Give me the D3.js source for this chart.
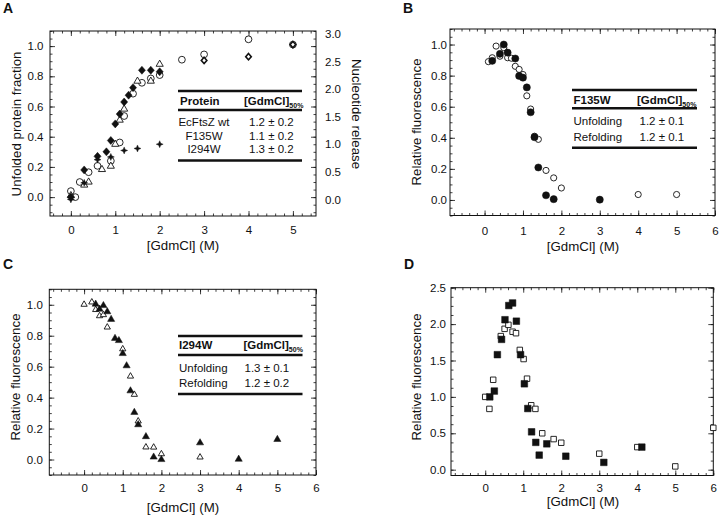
<!DOCTYPE html>
<html><head><meta charset="utf-8">
<script src="https://cdn.jsdelivr.net/npm/d3@7"></script>
<style>
body{margin:0;background:#fff}
svg{display:block}
text{font-family:Arial,"Liberation Sans",sans-serif;fill:#111}
</style>
</head><body>
<script>
// ---------- DATA ----------
// Panel A (left axis: unfolded protein fraction; stars on right axis: nucleotide release)
const aDiamondX = [0, 0.3, 0.6, 0.8, 0.9, 1.0, 1.1, 1.2, 1.3, 1.4, 1.6, 1.8, 2.0];
const aDiamondY = [0.0, 0.18, 0.27, 0.30, 0.375, 0.485, 0.55, 0.63, 0.675, 0.725, 0.84, 0.84, 0.83];
const aOpenDiamondX = [3, 4, 5];
const aOpenDiamondY = [0.905, 0.93, 1.01];
const aCircleX = [0, 0.1, 0.2, 0.4, 0.6, 0.9, 1.1, 1.2, 1.4, 1.6, 1.8, 2.0, 2.5, 3, 4, 5];
const aCircleY = [0.04, 0.0, 0.10, 0.165, 0.207, 0.24, 0.362, 0.537, 0.685, 0.757, 0.786, 0.808, 0.91, 0.945, 1.045, 1.01];
const aTriangleX = [0, 0.3, 0.4, 0.7, 0.9, 1.0, 1.1, 1.2, 1.5, 1.8, 2.0];
const aTriangleY = [0.01, 0.08, 0.10, 0.183, 0.205, 0.35, 0.51, 0.583, 0.768, 0.768, 0.88];
const aStarX = [0, 0.3, 0.6, 0.9, 1.2, 1.5, 2.0];
const aStarY = [0.0, 0.30, 0.72, 0.77, 0.887, 0.923, 1.0]; // right axis units

// Panel B
const bFilledX = [0.2, 0.4, 0.5, 0.6, 0.8, 0.9, 1.0, 1.1, 1.2, 1.3, 1.4, 1.6, 1.8, 3.0];
const bFilledY = [0.895, 0.94, 1.0, 0.948, 0.91, 0.798, 0.787, 0.724, 0.564, 0.404, 0.209, 0.03, 0.005, 0.002];
const bOpenX = [0.1, 0.2, 0.3, 0.4, 0.5, 0.6, 0.7, 0.8, 0.9, 1.0, 1.1, 1.2, 1.3, 1.4, 1.6, 1.8, 2.0, 4.0, 5.0];
const bOpenY = [0.89, 0.915, 0.99, 0.925, 0.98, 0.915, 0.912, 0.86, 0.84, 0.807, 0.67, 0.585, 0.41, 0.39, 0.19, 0.142, 0.077, 0.035, 0.035];

// Panel C
const cFilledX = [0.3, 0.4, 0.5, 0.6, 0.7, 0.8, 0.9, 1.0, 1.1, 1.2, 1.3, 1.4, 1.6, 1.8, 2.0, 3.0, 4.0, 5.0];
const cFilledY = [1.004, 0.972, 0.995, 0.955, 0.906, 0.783, 0.769, 0.685, 0.606, 0.444, 0.305, 0.225, 0.148, 0.016, 0.0, 0.108, 0.002, 0.13];
const cOpenX = [0, 0.2, 0.3, 0.4, 0.5, 0.6, 1.0, 1.2, 1.3, 1.4, 1.6, 1.8, 2.0, 3.0];
const cOpenY = [1.002, 1.017, 0.968, 0.928, 0.935, 0.855, 0.714, 0.538, 0.42, 0.248, 0.08, 0.079, 0.036, 0.015];

// Panel D
const dFilledX = [0.12, 0.24, 0.32, 0.43, 0.52, 0.62, 0.72, 0.82, 0.93, 1.03, 1.12, 1.22, 1.33, 1.42, 1.62, 2.12, 3.12, 4.12];
const dFilledY = [1.0, 1.08, 1.58, 1.79, 2.06, 2.255, 2.29, 2.04, 1.58, 1.18, 0.84, 0.52, 0.375, 0.2, 0.355, 0.185, 0.1, 0.31];
const dOpenX = [0, 0.11, 0.21, 0.41, 0.51, 0.61, 0.72, 0.81, 0.91, 1.01, 1.1, 1.21, 1.32, 1.5, 1.8, 2.0, 3.0, 4.0, 5.0, 6.0];
const dOpenY = [1.0, 0.835, 1.235, 1.835, 1.935, 1.99, 1.895, 1.875, 1.645, 1.52, 1.25, 0.885, 0.835, 0.5, 0.42, 0.37, 0.22, 0.31, 0.045, 0.575];

// Ticks
const xTicksA = [0, 1, 2, 3, 4, 5];
const xTicksBCD = [0, 1, 2, 3, 4, 5, 6];
const yTicksFrac = [0, 0.2, 0.4, 0.6, 0.8, 1.0];
const yTicksRightA = [0, 0.5, 1.0, 1.5, 2.0, 2.5, 3.0];
const yTicksD = [0, 0.5, 1.0, 1.5, 2.0, 2.5];

// Tables
const tableAHeader = ["Protein", "[GdmCl]", "50%"];
const tableARows = ["EcFtsZ wt", "F135W", "I294W"];
const tableAVals = ["1.2 \u00b1 0.2", "1.1 \u00b1 0.2", "1.3 \u00b1 0.2"];
const tableBHeader = ["F135W", "[GdmCl]", "50%"];
const tableBRows = ["Unfolding", "Refolding"];
const tableBVals = ["1.2 \u00b1 0.1", "1.2 \u00b1 0.1"];
const tableCHeader = ["I294W", "[GdmCl]", "50%"];
const tableCRows = ["Unfolding", "Refolding"];
const tableCVals = ["1.3 \u00b1 0.1", "1.2 \u00b1 0.2"];

// ---------- DRAW ----------
const W = 720, H = 515;
const svg = d3.select("body").append("svg").attr("width", W).attr("height", H);
svg.append("rect").attr("width", W).attr("height", H).attr("fill", "#fff");

const INK = "#111";

function styleAxis(sel, fs) {
  sel.select(".domain").remove();
  sel.selectAll("line").attr("stroke", INK).attr("stroke-width", 0.8);
  sel.selectAll("text").attr("font-size", fs).attr("font-family", "Arial, 'Liberation Sans', sans-serif").attr("fill", INK);
}

function rangeBetween(lo, hi, step) {
  const out = [];
  const s = Math.ceil(lo / step - 1e-9);
  for (let k = s; k * step <= hi + 1e-9; k++) out.push(+(k * step).toFixed(6));
  return out;
}

function panel(cfg) {
  const g = svg.append("g");
  const x = d3.scaleLinear().domain(cfg.xDomain).range([cfg.x0, cfg.x1]);
  const y = d3.scaleLinear().domain(cfg.yDomain).range([cfg.y1, cfg.y0]);
  const xMinor = rangeBetween(cfg.xDomain[0], cfg.xDomain[1], cfg.xMinor);
  const yMinor = rangeBetween(cfg.yDomain[0], cfg.yDomain[1], cfg.yMinor);
  const fs = 11.5;

  g.append("g").attr("transform", `translate(0,${cfg.y1})`)
    .call(d3.axisBottom(x).tickValues(xMinor).tickSize(-2.5).tickFormat(""))
    .call(s => styleAxis(s, fs));
  g.append("g").attr("transform", `translate(0,${cfg.y1})`)
    .call(d3.axisBottom(x).tickValues(cfg.xTicks).tickSize(-5).tickPadding(cfg.xPad).tickFormat(d3.format("d")))
    .call(s => styleAxis(s, fs));
  g.append("g").attr("transform", `translate(0,${cfg.y0})`)
    .call(d3.axisTop(x).tickValues(xMinor).tickSize(-2.5).tickFormat(""))
    .call(s => styleAxis(s, fs));
  g.append("g").attr("transform", `translate(0,${cfg.y0})`)
    .call(d3.axisTop(x).tickValues(cfg.xTicks).tickSize(-5).tickFormat(""))
    .call(s => styleAxis(s, fs));
  g.append("g").attr("transform", `translate(${cfg.x0},0)`)
    .call(d3.axisLeft(y).tickValues(yMinor).tickSize(-2.5).tickFormat(""))
    .call(s => styleAxis(s, fs));
  g.append("g").attr("transform", `translate(${cfg.x0},0)`)
    .call(d3.axisLeft(y).tickValues(cfg.yTicks).tickSize(-5).tickPadding(cfg.yPad).tickFormat(d3.format(".1f")))
    .call(s => styleAxis(s, fs));
  g.append("g").attr("transform", `translate(${cfg.x1},0)`)
    .call(d3.axisRight(y).tickValues(yMinor).tickSize(-2.5).tickFormat(""))
    .call(s => styleAxis(s, fs));
  g.append("g").attr("transform", `translate(${cfg.x1},0)`)
    .call(d3.axisRight(y).tickValues(cfg.yTicks).tickSize(-5).tickFormat(""))
    .call(s => styleAxis(s, fs));

  g.append("rect").attr("x", cfg.x0).attr("y", cfg.y0)
    .attr("width", cfg.x1 - cfg.x0).attr("height", cfg.y1 - cfg.y0)
    .attr("fill", "none").attr("stroke", INK).attr("stroke-width", 1);

  g.append("text").attr("x", cfg.xTitle[0]).attr("y", cfg.xTitle[1])
    .attr("text-anchor", "middle").attr("font-size", 13.3).text("[GdmCl] (M)");
  g.append("text").attr("transform", `translate(${cfg.yTitle[0]},${cfg.yTitle[1]}) rotate(-90)`)
    .attr("text-anchor", "middle").attr("font-size", 13.3).text(cfg.yLabel);
  g.append("text").attr("x", cfg.letter[0]).attr("y", cfg.letter[1])
    .attr("font-size", 14).attr("font-weight", "bold").text(cfg.letterText);
  return { g, x, y };
}

const diamondType = { draw(ctx, size) { const r = Math.sqrt(size) / 2; const w = r * 0.88, h = r; ctx.moveTo(0, -h); ctx.lineTo(w, 0); ctx.lineTo(0, h); ctx.lineTo(-w, 0); ctx.closePath(); } };
const star4Type = { draw(ctx, size) { const r = Math.sqrt(size) / 2, i = r * 0.3; ctx.moveTo(0, -r); ctx.lineTo(i, -i); ctx.lineTo(r, 0); ctx.lineTo(i, i); ctx.lineTo(0, r); ctx.lineTo(-i, i); ctx.lineTo(-r, 0); ctx.lineTo(-i, -i); ctx.closePath(); } };

function points(p, xs, ys, type, size, filled, sw, yScale) {
  const ysc = yScale || p.y;
  const data = xs.map((v, i) => [v, ys[i]]);
  p.g.append("g").selectAll("path").data(data).join("path")
    .attr("transform", d => `translate(${p.x(d[0])},${ysc(d[1])})`)
    .attr("d", d3.symbol().type(type).size(size)())
    .attr("fill", filled ? INK : "#fff")
    .attr("stroke", INK)
    .attr("stroke-width", sw);
}

function table(p, t) {
  const g = p.g.append("g");
  [t.yTop, t.yMid, t.yBot].forEach(yy => {
    g.append("line").attr("x1", t.x1).attr("x2", t.x2).attr("y1", yy).attr("y2", yy)
      .attr("stroke", INK).attr("stroke-width", 2.6);
  });
  g.append("text").attr("x", t.c1h).attr("y", t.headerY).attr("font-size", 11.5).attr("font-weight", "bold")
    .text(t.header[0]);
  const h2 = g.append("text").attr("x", t.c2h).attr("y", t.headerY).attr("font-size", 11.5).attr("font-weight", "bold");
  h2.append("tspan").text(t.header[1]);
  h2.append("tspan").attr("font-size", 7).attr("dy", 3).text(t.header[2]);
  t.rows.forEach((r, i) => {
    g.append("text").attr("x", t.c1).attr("y", t.rowY[i]).attr("font-size", 11.5)
      .attr("text-anchor", t.c1Anchor).text(r);
    g.append("text").attr("x", t.c2).attr("y", t.rowY[i]).attr("font-size", 11.5).text(t.vals[i]);
  });
}

// ---- Panel A ----
const pA = panel({
  x0: 50, x1: 316, y0: 31, y1: 216,
  xDomain: [-0.47, 5.52], yDomain: [-0.125, 1.1],
  xTicks: xTicksA, yTicks: yTicksFrac, xMinor: 0.2, yMinor: 0.05,
  xPad: 10, yPad: 6.5,
  xTitle: [183, 250], yTitle: [21, 124], yLabel: "Unfolded protein fraction",
  letter: [3, 13], letterText: "A"
});
const yRightA = d3.scaleLinear().domain([-0.30, 3.05]).range([216, 31]);
pA.g.append("g").attr("transform", "translate(316,0)")
  .call(d3.axisRight(yRightA).tickValues(yTicksRightA).tickSize(0).tickPadding(9).tickFormat(d3.format(".1f")))
  .call(s => styleAxis(s, 11.5));
pA.g.append("text").attr("transform", "translate(352,114) rotate(90)")
  .attr("text-anchor", "middle").attr("font-size", 13.3).text("Nucleotide release");

points(pA, aCircleX, aCircleY, d3.symbolCircle, 36, false, 0.9);
points(pA, aTriangleX, aTriangleY, d3.symbolTriangle, 22, false, 0.9);
points(pA, aOpenDiamondX, aOpenDiamondY, diamondType, 40, false, 1.6);
points(pA, aDiamondX, aDiamondY, diamondType, 64, true, 0.5);
points(pA, aStarX, aStarY, star4Type, 49, true, 0.4, yRightA);

table(pA, {
  x1: 178, x2: 302, yTop: 91, yMid: 110, yBot: 160.5,
  header: tableAHeader, headerY: 104.5, c1h: 180, c2h: 244,
  rows: tableARows, vals: tableAVals, rowY: [126, 139.5, 152.5], c1: 204, c1Anchor: "middle", c2: 249
});

// ---- Panel B ----
const pB = panel({
  x0: 450, x1: 715, y0: 29, y1: 215.5,
  xDomain: [-0.9, 6], yDomain: [-0.1, 1.1],
  xTicks: xTicksBCD, yTicks: yTicksFrac, xMinor: 0.2, yMinor: 0.05,
  xPad: 11, yPad: 3,
  xTitle: [583, 251], yTitle: [421, 122], yLabel: "Relative fluorescence",
  letter: [403, 13], letterText: "B"
});
points(pB, bOpenX, bOpenY, d3.symbolCircle, 30, false, 0.9);
points(pB, bFilledX, bFilledY, d3.symbolCircle, 40, true, 0.5);
table(pB, {
  x1: 572, x2: 697, yTop: 90, yMid: 108.3, yBot: 147.7,
  header: tableBHeader, headerY: 103.5, c1h: 573.5, c2h: 637,
  rows: tableBRows, vals: tableBVals, rowY: [125, 140.5], c1: 573.5, c1Anchor: "start", c2: 639.5
});

// ---- Panel C ----
const pC = panel({
  x0: 49.3, x1: 316, y0: 289.3, y1: 475,
  xDomain: [-0.9, 6], yDomain: [-0.1, 1.1],
  xTicks: xTicksBCD, yTicks: yTicksFrac, xMinor: 0.2, yMinor: 0.05,
  xPad: 8.5, yPad: 6.5,
  xTitle: [183, 512], yTitle: [20, 377], yLabel: "Relative fluorescence",
  letter: [3, 269], letterText: "C"
});
points(pC, cOpenX, cOpenY, d3.symbolTriangle, 17, false, 0.9);
points(pC, cFilledX, cFilledY, d3.symbolTriangle, 22, true, 0.5);
table(pC, {
  x1: 178, x2: 302.5, yTop: 336, yMid: 355, yBot: 394,
  header: tableCHeader, headerY: 349, c1h: 179, c2h: 243.5,
  rows: tableCRows, vals: tableCVals, rowY: [371.5, 387], c1: 179, c1Anchor: "start", c2: 244.5
});

// ---- Panel D ----
const pD = panel({
  x0: 451, x1: 713.3, y0: 287.7, y1: 475.5,
  xDomain: [-0.9, 6], yDomain: [-0.08, 2.5],
  xTicks: xTicksBCD, yTicks: yTicksD, xMinor: 0.2, yMinor: 0.125,
  xPad: 8, yPad: 5,
  xTitle: [583, 506], yTitle: [421, 377], yLabel: "Relative fluorescence",
  letter: [404, 269], letterText: "D"
});
points(pD, dOpenX, dOpenY, d3.symbolSquare, 30, false, 0.9);
points(pD, dFilledX, dFilledY, d3.symbolSquare, 44, true, 0.5);
</script>
</body></html>
